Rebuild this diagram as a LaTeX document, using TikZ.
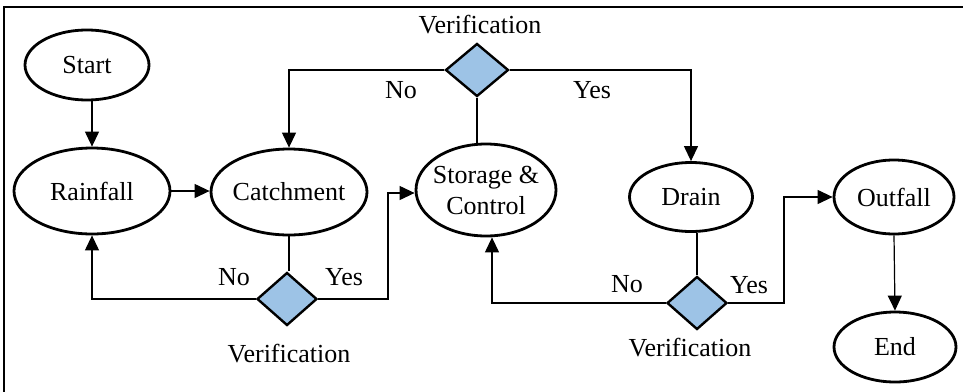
\documentclass[tikz,border=0pt]{standalone}
\usepackage{fontspec}
\setmainfont{Liberation Serif}
\newfontfamily\chartfont{Liberation Serif}
\usetikzlibrary{shapes.geometric,arrows.meta}
\definecolor{decision}{HTML}{9DC3E6}
\begin{document}
\begin{tikzpicture}[x=1pt,y=-1pt,
  every node/.style={font=\chartfont\fontsize{26}{31}\selectfont},
  stage/.style={ellipse,draw,line width=2.8pt,inner sep=0pt,inner xsep=-4pt},
  check/.style={diamond,draw,line width=2.4pt,fill=decision,minimum width=60pt,minimum height=53pt,inner sep=0pt},
  link/.style={line width=1.2pt},
  flow/.style={link,-{Triangle[length=15pt,width=14pt]}},
  tag/.style={anchor=base}]
\useasboundingbox (0,0) rectangle (963,391);

% outer frame
\draw[line width=1.8pt] (4,395) -- (4,7) -- (968,7);

% process stages
\node[stage,minimum width=124pt,minimum height=70pt] (start) at (87,65) {Start};
\node[stage,minimum width=156pt,minimum height=86pt] (rain) at (92,191) {Rainfall};
\node[stage,minimum width=156pt,minimum height=86pt] (catch) at (289,192) {Catchment};
\node[stage,minimum width=140pt,minimum height=92pt,align=center] (store) at (486,190) {Storage \&\\Control};
\node[stage,minimum width=123pt,minimum height=69pt] (drain) at (691,197) {Drain};
\node[stage,minimum width=120pt,minimum height=74pt] (outfall) at (894,197) {Outfall};
\node[stage,minimum width=122pt,minimum height=70pt] (finish) at (895,347) {End};

% decisions
\node[check,minimum width=63pt] (vtop) at (477,70) {};
\node[check] (vcat) at (287,299) {};
\node[check] (vdrain) at (697,303) {};

% labels
\node[tag] (ltop) at (480,33) {Verification};
\node[tag] (ltopno) at (401,98) {No};
\node[tag] (ltopyes) at (592,98) {Yes};
\node[tag] (lcatno) at (234,285) {No};
\node[tag] (lcatyes) at (344,285) {Yes};
\node[tag] (lcat) at (289,362) {Verification};
\node[tag] (ldrno) at (627,292) {No};
\node[tag] (ldryes) at (749,293) {Yes};
\node[tag] (ldr) at (690,356) {Verification};

% connectors
\draw[flow] (start.south -| rain.north) -- (rain.north);
\draw[flow] (rain.east) -- (rain.east -| catch.west);
\draw[flow] (vtop.west) -| (catch.north);
\draw[flow] (vtop.east) -| (drain.north);
\draw[link] (vtop.south) -- (vtop.south |- store.north);
\draw[link] (catch.south) -- (catch.south |- vcat.north);
\draw[flow] (vcat.west) -| (rain.south);
\coordinate (j1) at (388,193);
\draw[flow] (vcat.east) -| (j1) -- (j1 -| store.west);
\draw[link] (vdrain.north |- drain.south) -- (vdrain.north);
\coordinate (j2) at (492,303);
\draw[flow] (vdrain.west) -- (j2) -- (j2 |- store.south);
\coordinate (j3) at (784,197);
\draw[flow] (vdrain.east) -| (j3) -- (outfall.west);
\draw[flow] (outfall.south) -- (finish.north);
\end{tikzpicture}
\end{document}
